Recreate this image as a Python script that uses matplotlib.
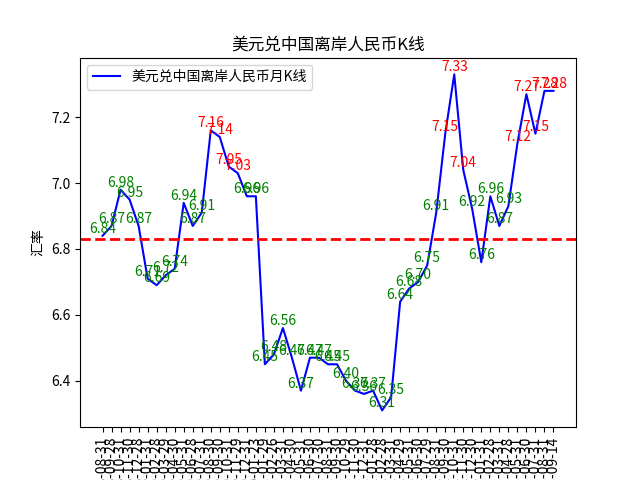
import matplotlib
matplotlib.use("Agg")
import matplotlib.pyplot as plt

plt.rcParams['font.family'] = ['Noto Sans CJK SC', 'DejaVu Sans']
plt.rcParams['axes.unicode_minus'] = False

dates = [
    "2018-08-31", "2018-09-28", "2018-10-31", "2018-11-30", "2018-12-28",
    "2019-01-31", "2019-02-28", "2019-03-29", "2019-04-30", "2019-05-31",
    "2019-06-28", "2019-07-31", "2019-08-30", "2019-09-30", "2019-10-31",
    "2019-11-29", "2019-12-31", "2020-01-23",
    "2021-01-29", "2021-02-26", "2021-03-31", "2021-04-30", "2021-05-31",
    "2021-06-30", "2021-07-30", "2021-08-31", "2021-09-30", "2021-10-29",
    "2021-11-30", "2021-12-31", "2022-01-28", "2022-02-28", "2022-03-31",
    "2022-04-29", "2022-05-31", "2022-06-30", "2022-07-29", "2022-08-31",
    "2022-09-30", "2022-10-31", "2022-11-30", "2022-12-30", "2023-01-31",
    "2023-02-28", "2023-03-31", "2023-04-28", "2023-05-31", "2023-06-30",
    "2023-07-31", "2023-08-31", "2023-09-14",
]
rates = [
    6.84, 6.87, 6.98, 6.95, 6.87, 6.71, 6.69, 6.72, 6.74, 6.94,
    6.87, 6.91, 7.16, 7.14, 7.05, 7.03, 6.96, 6.96,
    6.45, 6.48, 6.56, 6.47, 6.37, 6.47, 6.47, 6.45, 6.45, 6.40,
    6.37, 6.36, 6.37, 6.31, 6.35,
    6.64, 6.68, 6.70, 6.75, 6.91, 7.15, 7.33, 7.04, 6.92, 6.76,
    6.96, 6.87, 6.93, 7.12, 7.27, 7.15, 7.28, 7.28,
]
ref_level = 6.83

fig, ax = plt.subplots(figsize=(6.4, 4.8), dpi=100)
ax.plot(dates, rates, color="blue", linewidth=1.5, label="美元兑中国离岸人民币月K线")
ax.axhline(ref_level, color="red", linestyle="--", linewidth=2)

for d, r in zip(dates, rates):
    ax.text(d, r, f"{r:.2f}", ha="center", va="bottom", fontsize=10,
            color="red" if r > 7 else "green")

ax.set_title("美元兑中国离岸人民币K线")
ax.set_ylabel("汇率")
ax.set_yticks([6.4, 6.6, 6.8, 7.0, 7.2])
plt.xticks(rotation=90)
ax.legend(loc="upper left")

fig.savefig("out.png")
